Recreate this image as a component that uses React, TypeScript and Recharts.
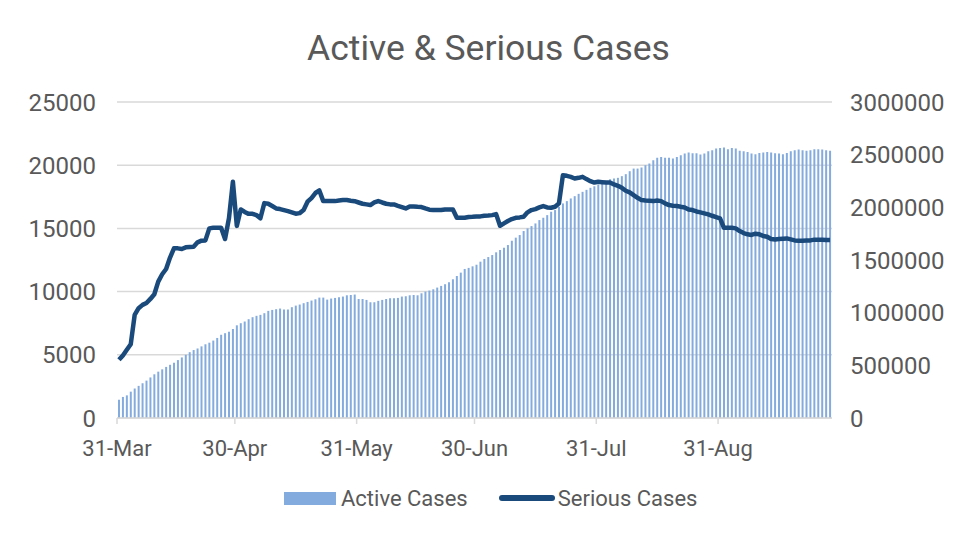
import { ComposedChart, Bar, Line, XAxis, YAxis, CartesianGrid, Legend } from "recharts";

// one label per day, 31-Mar .. 28-Sep
const MONTHS = ["Mar", "Apr", "May", "Jun", "Jul", "Aug", "Sep"];
const MONTH_FIRST_DAY = [31, 1, 1, 1, 1, 1, 1];
const MONTH_LAST_DAY = [31, 30, 31, 30, 31, 31, 28];

const DATES: string[] = [];
MONTHS.forEach((m, k) => {
  for (let d = MONTH_FIRST_DAY[k]; d <= MONTH_LAST_DAY[k]; d++) DATES.push(`${d}-${m}`);
});

const TICK_LABELS = ["31-Mar", "30-Apr", "31-May", "30-Jun", "31-Jul", "31-Aug"];
const LEFT_TICKS = [0, 5000, 10000, 15000, 20000, 25000];
const RIGHT_TICKS = [0, 500000, 1000000, 1500000, 2000000, 2500000, 3000000];

const ACTIVE_CASES = [
  174000, 200000, 215000, 250000, 280000, 305000, 330000, 355000, 385000, 415000,
  440000, 462000, 485000, 505000, 525000, 550000, 575000, 600000, 625000, 645000,
  660000, 680000, 700000, 715000, 735000, 760000, 790000, 805000, 818000, 845000,
  880000, 900000, 916000, 938000, 957000, 970000, 979000, 995000, 1017000, 1026000,
  1033000, 1039000, 1030000, 1030000, 1052000, 1067000, 1077000, 1090000, 1102000, 1115000,
  1127000, 1143000, 1143000, 1124000, 1134000, 1140000, 1146000, 1153000, 1165000, 1168000,
  1172000, 1130000, 1130000, 1121000, 1099000, 1099000, 1112000, 1121000, 1130000, 1137000,
  1137000, 1140000, 1153000, 1156000, 1165000, 1168000, 1165000, 1184000, 1200000, 1210000,
  1222000, 1238000, 1254000, 1270000, 1288000, 1317000, 1348000, 1380000, 1415000, 1425000,
  1440000, 1455000, 1484000, 1510000, 1528000, 1547000, 1573000, 1595000, 1617000, 1642000,
  1683000, 1712000, 1737000, 1775000, 1800000, 1822000, 1847000, 1879000, 1901000, 1926000,
  1958000, 1974000, 2005000, 2037000, 2059000, 2084000, 2106000, 2128000, 2147000, 2166000,
  2185000, 2200000, 2215000, 2226000, 2248000, 2267000, 2274000, 2280000, 2296000, 2315000,
  2343000, 2368000, 2368000, 2378000, 2400000, 2416000, 2447000, 2470000, 2479000, 2470000,
  2470000, 2463000, 2479000, 2495000, 2511000, 2520000, 2514000, 2514000, 2501000, 2511000,
  2533000, 2542000, 2558000, 2564000, 2567000, 2552000, 2564000, 2558000, 2536000, 2533000,
  2526000, 2511000, 2504000, 2517000, 2520000, 2526000, 2520000, 2514000, 2511000, 2504000,
  2517000, 2533000, 2542000, 2548000, 2542000, 2536000, 2542000, 2552000, 2552000, 2548000,
  2542000, 2536000,
];

const SERIOUS_CASES = [
  4600, 4950, 5400, 5840, 8160, 8690, 8950, 9100, 9420, 9790,
  10790, 11370, 11790, 12690, 13420, 13420, 13370, 13500, 13530, 13555,
  13900, 14030, 14050, 15000, 15050, 15050, 15050, 14160, 15800, 18690,
  15200, 16500, 16300, 16150, 16150, 16050, 15800, 17000, 16950, 16770,
  16580, 16530, 16450, 16370, 16270, 16160, 16210, 16450, 17110, 17400,
  17800, 18000, 17160, 17160, 17160, 17160, 17210, 17240, 17240, 17190,
  17150, 17050, 16950, 16900, 16845, 17050, 17160, 17050, 16950, 16900,
  16900, 16790, 16690, 16580, 16740, 16740, 16710, 16690, 16580, 16480,
  16450, 16450, 16450, 16500, 16500, 16500, 15840, 15840, 15840, 15900,
  15920, 15950, 15950, 16000, 16020, 16050, 16130, 15210, 15400, 15580,
  15740, 15840, 15870, 15920, 16270, 16450, 16530, 16660, 16770, 16660,
  16630, 16710, 16980, 19210, 19160, 19080, 18950, 19000, 19080, 18900,
  18740, 18630, 18690, 18660, 18630, 18630, 18480, 18370, 18210, 17980,
  17850, 17630, 17420, 17240, 17210, 17190, 17160, 17210, 17160, 16980,
  16845, 16790, 16770, 16710, 16660, 16500, 16450, 16340, 16270, 16190,
  16110, 16000, 15900, 15800, 15050, 15050, 15050, 15000, 14790, 14630,
  14530, 14480, 14580, 14530, 14400, 14340, 14160, 14130, 14160, 14190,
  14210, 14130, 14050, 14030, 14030, 14050, 14050, 14110, 14110, 14110,
  14080, 14080,
];

const data = DATES.map((date, i) => ({
  date,
  active: ACTIVE_CASES[i],
  serious: SERIOUS_CASES[i],
}));

const FONT = "Roboto, 'Noto Sans', sans-serif";
const TEXT = "#595959";
const GRID = "#d9d9d9";
const BAR_BLUE = "#84abdd";
const LINE_BLUE = "#1a4a7c";

const PLOT_W = 715;
const HALF_BAND = PLOT_W / DATES.length / 2;

// excel puts the date tick at the start of the day, not the middle
function DateTick(props: any) {
  const { x, y, payload } = props;
  const tx = x - HALF_BAND;
  return (
    <g>
      <line x1={tx} x2={tx} y1={y - 22} y2={y - 16} stroke={GRID} strokeWidth={1.5} />
      <text x={tx} y={y} dy="0.71em" textAnchor="middle" fill={TEXT} fontSize={22} fontFamily={FONT}>
        {payload.value}
      </text>
    </g>
  );
}

function ChartLegend() {
  return (
    <div style={{ height: 44, display: "flex", alignItems: "center", paddingLeft: 284, fontFamily: FONT, fontSize: 22, color: TEXT }}>
      <span style={{ width: 52, height: 13, background: BAR_BLUE, display: "inline-block" }} />
      <span style={{ marginLeft: 5 }}>Active Cases</span>
      <span style={{ width: 56, height: 6, borderRadius: 3, background: LINE_BLUE, display: "inline-block", marginLeft: 31 }} />
      <span style={{ marginLeft: 3 }}>Serious Cases</span>
    </div>
  );
}

export default function App() {
  return (
    <div style={{ position: "absolute", left: 0, top: 0, width: 958, height: 536, background: "#fff" }}>
      <div
        style={{
          position: "absolute", top: 30, left: 0, width: 958, paddingLeft: 19, boxSizing: "border-box",
          textAlign: "center", fontFamily: FONT, fontSize: 35.5, lineHeight: "36px", color: TEXT,
        }}
      >
        Active &amp; Serious Cases
      </div>
      <ComposedChart width={958} height={536} data={data} margin={{ top: 102, right: 0, bottom: 16, left: 0 }} barGap={0}>
        <CartesianGrid yAxisId="left" vertical={false} stroke={GRID} strokeWidth={1.5} />
        <XAxis
          dataKey="date"
          ticks={TICK_LABELS}
          interval={0}
          height={58}
          tickSize={6}
          tickMargin={16}
          tickLine={false}
          axisLine={{ stroke: GRID, strokeWidth: 1.5 }}
          tick={<DateTick />}
        />
        <YAxis
          yAxisId="left"
          orientation="left"
          width={117}
          domain={[0, 25000]}
          ticks={LEFT_TICKS}
          axisLine={false}
          tickLine={false}
          tickSize={0}
          tickMargin={21}
          tick={{ fill: TEXT, fontSize: 24, fontFamily: FONT }}
        />
        <YAxis
          yAxisId="right"
          orientation="right"
          width={126}
          domain={[0, 3000000]}
          ticks={RIGHT_TICKS}
          axisLine={false}
          tickLine={false}
          tickSize={0}
          tickMargin={18}
          tick={{ fill: TEXT, fontSize: 24, fontFamily: FONT, textAnchor: "start" }}
        />
        <Legend verticalAlign="bottom" content={<ChartLegend />} />
        <Bar yAxisId="right" dataKey="active" name="Active Cases" fill={BAR_BLUE} barSize={2} isAnimationActive={false} />
        <Line
          yAxisId="left"
          type="linear"
          dataKey="serious"
          name="Serious Cases"
          stroke={LINE_BLUE}
          strokeWidth={4.5}
          strokeLinejoin="round"
          dot={false}
          activeDot={false}
          isAnimationActive={false}
        />
      </ComposedChart>
    </div>
  );
}
